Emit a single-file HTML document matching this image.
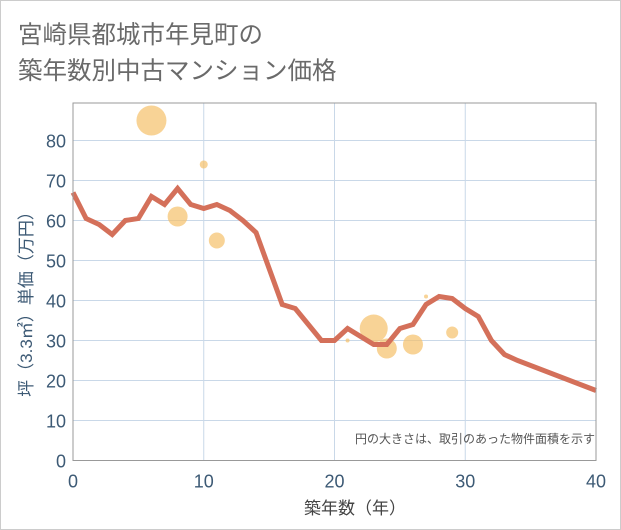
<!DOCTYPE html>
<html><head><meta charset="utf-8"><style>
html,body{margin:0;padding:0;background:#fff;}
#wrap{position:relative;width:621px;height:530px;overflow:hidden;}
svg text{font-family:"Liberation Sans","Noto Sans CJK JP",sans-serif;}
</style></head><body>
<div id="wrap">
<svg id="chart" width="621" height="530" xmlns="http://www.w3.org/2000/svg">
<rect x="0.5" y="0.5" width="620" height="529" fill="#fff" stroke="#ccc"/>
<text x="18" y="43" font-size="24.5" fill="#6a6a6a">宮崎県都城市年見町の</text>
<text x="18" y="79" font-size="24.5" fill="#6a6a6a">築年数別中古マンション価格</text>
<g id="grid"></g>
<g id="bubbles"></g>
<g id="line"></g>
<g id="axes"></g>
<text x="595" y="443" font-size="12" fill="#555" text-anchor="end">円の大きさは、取引のあった物件面積を示す</text>
<text x="355" y="514" font-size="17" fill="#444" text-anchor="middle">築年数（年）</text>
<text transform="translate(32,300) rotate(-90)" font-size="17" fill="#3d5a75" text-anchor="middle">坪（3.3㎡）単価（万円）</text>
</svg>
</div>
<script>
const xTicks = [0,10,20,30,40];
const yTicks = [0,10,20,30,40,50,60,70,80];
const lineYears = [0,1,2,3,4,5,6,7,8,9,10,11,12,13,14,15,16,17,18,19,20,21,22,23,24,25,26,27,28,29,30,31,32,33,34,40];
const linePrices = [67,60.5,59,56.5,60,60.5,66,64,68,64,63,64,62.5,60,57,48,39,38,34,30,30,33,31,29,29,33,34,39,41,40.5,38,36,30,26.5,25,17.5];
const bubbleYears = [6,10,8,11,21,23,24,26,27,29];
const bubblePrices = [85,74,61,55,30,33,28,29,41,32];
const bubbleRadii = [15,4,10,8,2,14,10,10,2,6];

const NS='http://www.w3.org/2000/svg';
const X0=73,X1=596,Y0=460.5,Y1=103;
const xs=v=>X0+(v-0)/(40-0)*(X1-X0);
const ys=v=>Y0-v/80*(Y0-140.5);
function mk(t,a,p){const e=document.createElementNS(NS,t);for(const k in a)e.setAttribute(k,a[k]);p.appendChild(e);return e;}
const grid=document.getElementById('grid'),axes=document.getElementById('axes');
xTicks.forEach(t=>{
  const l=mk('line',{x1:xs(t),x2:xs(t),y1:Y1,y2:Y0,stroke:'#c9d8e8','stroke-width':1},grid);
  
  
  const tx=mk('text',{x:xs(t),y:Y0+27,'font-size':18,fill:'#3d5a75','text-anchor':'middle'},axes);
  tx.textContent=t;
  
  
});
yTicks.forEach(t=>{
  const l=mk('line',{x1:X0,x2:X1,y1:ys(t),y2:ys(t),stroke:'#c9d8e8','stroke-width':1},grid);
  
  
  const tx=mk('text',{x:66,y:ys(t)+7,'font-size':18,fill:'#3d5a75','text-anchor':'end'},axes);
  tx.textContent=t;
  
  
});
const fr=mk('rect',{x:X0,y:Y1,width:X1-X0,height:Y0-Y1,fill:'none',stroke:'#999','stroke-width':1},axes);


const bg=document.getElementById('bubbles');
bubbleYears.forEach((y,i)=>{
  const c=mk('circle',{cx:xs(y),cy:ys(bubblePrices[i]),r:bubbleRadii[i],fill:'#f5c16a','fill-opacity':0.7},bg);
  
  
});
const pts=lineYears.map((y,i)=>xs(y)+','+ys(linePrices[i])).join(' ');
const pl=mk('polyline',{points:pts,fill:'none',stroke:'#d4705a','stroke-width':5,'stroke-linejoin':'miter'},document.getElementById('line'));


</script>
</body></html>
